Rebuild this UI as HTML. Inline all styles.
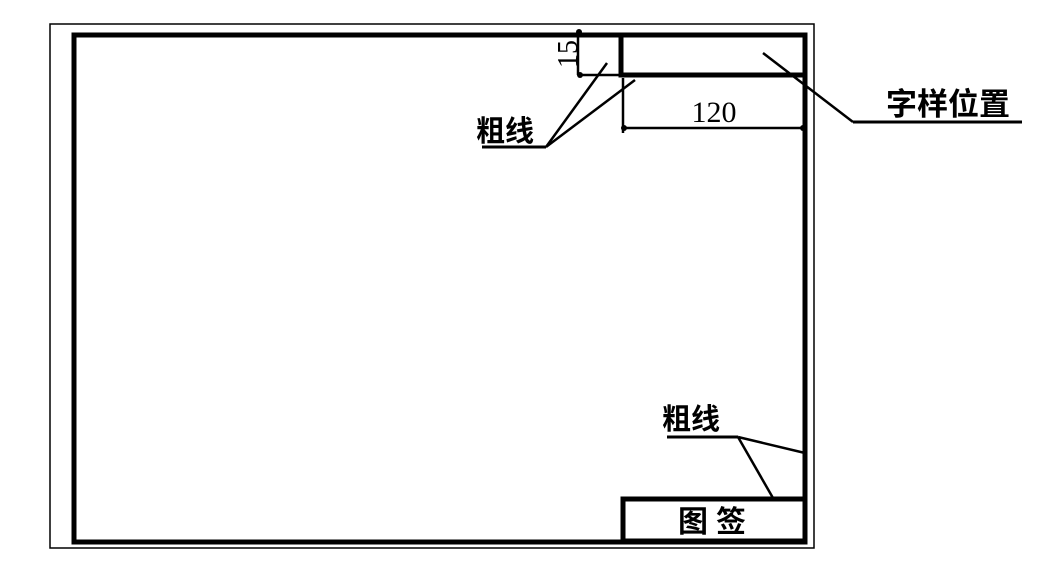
<!DOCTYPE html>
<html><head><meta charset="utf-8"><style>
html,body{margin:0;padding:0;background:#fff;width:1047px;height:572px;overflow:hidden}
</style></head><body>
<svg width="1047" height="572" viewBox="0 0 1047 572" xmlns="http://www.w3.org/2000/svg" style="font-family:'Liberation Serif','Noto Serif CJK SC',serif">
<rect x="50" y="24" width="764" height="524" fill="none" stroke="#000" stroke-width="1.5"/>
<rect x="74" y="35" width="731" height="507" fill="none" stroke="#000" stroke-width="5"/>
<rect x="621" y="35" width="184" height="40" fill="none" stroke="#000" stroke-width="5"/>
<line x1="578" y1="30" x2="578" y2="75" stroke="#000" stroke-width="2.5"/>
<line x1="578" y1="75" x2="621" y2="75" stroke="#000" stroke-width="2.5"/>
<circle cx="579" cy="32" r="3"/><circle cx="580" cy="75" r="3"/>
<text x="0" y="0" transform="translate(577,68) rotate(-90)" font-size="28">15</text>
<line x1="623" y1="78" x2="623" y2="133" stroke="#000" stroke-width="2.5"/>
<line x1="623" y1="128" x2="805" y2="128" stroke="#000" stroke-width="2.5"/>
<circle cx="624" cy="128" r="3"/><circle cx="803" cy="128" r="3"/>
<text x="714" y="122" font-size="30" text-anchor="middle">120</text>
<text x="476" y="141" font-size="29" font-weight="bold" font-family="'Noto Sans CJK SC',sans-serif">粗线</text>
<line x1="482" y1="147" x2="546" y2="147" stroke="#000" stroke-width="3"/>
<line x1="546" y1="147" x2="607" y2="63" stroke="#000" stroke-width="2.5"/>
<line x1="546" y1="147" x2="635" y2="80" stroke="#000" stroke-width="2.5"/>
<line x1="763" y1="53" x2="853" y2="122" stroke="#000" stroke-width="2.5"/>
<line x1="853" y1="122" x2="1022" y2="122" stroke="#000" stroke-width="3"/>
<text x="886" y="115" font-size="31" font-weight="bold" font-family="'Noto Sans CJK SC',sans-serif">字样位置</text>
<rect x="623" y="499" width="182" height="42" fill="none" stroke="#000" stroke-width="5"/>
<text x="716" y="532" font-size="30" font-weight="bold" text-anchor="middle" letter-spacing="8" font-family="'Noto Sans CJK SC',sans-serif">图签</text>
<text x="662" y="429" font-size="29" font-weight="bold" font-family="'Noto Sans CJK SC',sans-serif">粗线</text>
<line x1="667" y1="437" x2="738" y2="437" stroke="#000" stroke-width="3"/>
<line x1="738" y1="437" x2="805" y2="453" stroke="#000" stroke-width="2.5"/>
<line x1="738" y1="437" x2="773" y2="498" stroke="#000" stroke-width="2.5"/>
</svg>
</body></html>
